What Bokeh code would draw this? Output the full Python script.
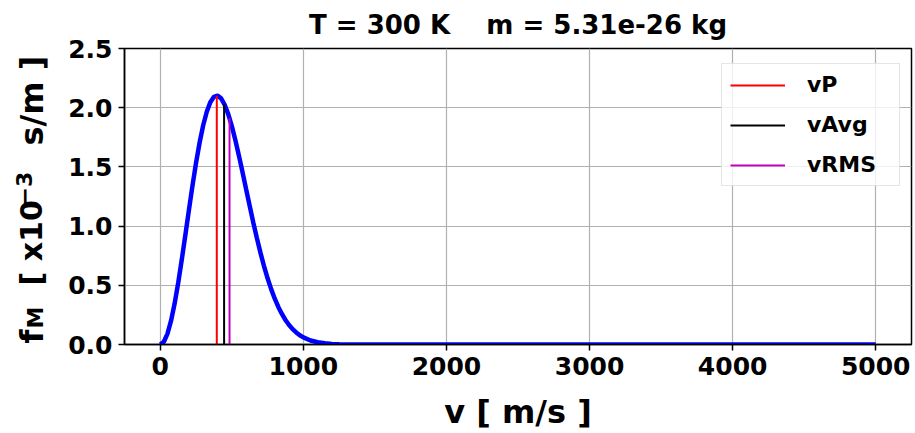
from bokeh.plotting import figure
from bokeh.layouts import row
from bokeh.models import Label, Range1d, FixedTicker, Legend, LegendItem, PrintfTickFormatter
from bokeh.embed import file_html
from bokeh.resources import INLINE

# ---- data ----
speed = [0, 25, 50, 75, 100, 125, 150, 175, 200, 225, 250, 275, 300, 325, 350,
         375, 400, 425, 450, 475, 500, 525, 550, 575, 600, 625, 650, 675, 700,
         725, 750, 775, 800, 825, 850, 875, 900, 925, 950, 975, 1000, 1050,
         1100, 1150, 1200, 1250, 1300, 1400, 1500, 2000, 3000, 4000, 5000]
f_m = [0.0, 0.023, 0.090, 0.199, 0.344, 0.518, 0.714, 0.922, 1.134, 1.341,
       1.534, 1.706, 1.852, 1.966, 2.047, 2.092, 2.102, 2.079, 2.025, 1.946,
       1.844, 1.725, 1.593, 1.454, 1.311, 1.170, 1.031, 0.899, 0.776, 0.662,
       0.559, 0.468, 0.387, 0.317, 0.258, 0.207, 0.165, 0.130, 0.102, 0.078,
       0.060, 0.034, 0.019, 0.010, 0.005, 0.0025, 0.001, 0.0003, 0.0, 0.0,
       0.0, 0.0, 0.0]

mark_names = ["vP", "vAvg", "vRMS"]
mark_speeds = [395, 446, 484]
mark_heights = [2.10, 2.03, 1.91]
mark_colors = ["#ff0000", "#000000", "#bf00bf"]

x_ticks = [0, 1000, 2000, 3000, 4000, 5000]
y_ticks = [0.0, 0.5, 1.0, 1.5, 2.0, 2.5]

title_text = "T = 300 K\u00a0\u00a0\u00a0\u00a0m = 5.31e-26 kg"
x_label = "v [ m/s ]"
# y label pieces: text, font px, baseline x, start y (page pixels)
y_label_pieces = [
    ("f", 32, 31, 344),
    ("M", 22, 35, 329),
    ("[ x10", 30, 31, 286),
    ("\u22123", 22, 23, 206),
    ("s/m ]", 32, 31, 146),
]

FONT = "DejaVu Sans"
H = 433
LW = 64          # width of the strip that carries the y label
W = 913 - LW
FRAME_TOP, FRAME_BOTTOM = 48, 345

# ---- y-axis label strip (its frame is aligned with the main frame) ----
lf = figure(width=LW, height=H, output_backend="svg", toolbar_location=None,
            x_range=Range1d(0, LW), y_range=Range1d(0, 1), min_border=0)
lf.axis.visible = False
lf.grid.visible = False
lf.outline_line_color = None
for txt, fs, px, py in y_label_pieces:
    lf.add_layout(Label(x=px, y=FRAME_BOTTOM - py, x_units="screen", y_units="screen",
                        text=txt, angle=1.5707963, text_font=FONT,
                        text_font_style="bold", text_font_size=f"{fs}px",
                        text_color="#000000", text_align="left",
                        text_baseline="alphabetic"))

# ---- main plot ----
p = figure(width=W, height=H, output_backend="svg", toolbar_location=None,
           x_range=Range1d(-250, 5250), y_range=Range1d(0, 2.5),
           min_border_left=124 - LW, min_border_right=2, min_border_top=FRAME_TOP,
           min_border_bottom=H - FRAME_BOTTOM)

p.title.text = title_text
p.title.align = "center"
p.title.vertical_align = "top"
p.title.text_font = FONT
p.title.text_font_style = "bold"
p.title.text_font_size = "26px"
p.title.text_color = "#000000"
p.title.standoff = 14

p.line(speed, f_m, line_color="#0000ff", line_width=4.5)

items = []
for name, sv, h, c in zip(mark_names, mark_speeds, mark_heights, mark_colors):
    r = p.segment(x0=[sv], y0=[0], x1=[sv], y1=[h], line_color=c, line_width=2)
    items.append(LegendItem(label=name, renderers=[r]))

legend = Legend(items=items, location=(597, 158))
legend.label_text_font = FONT
legend.label_text_font_style = "bold"
legend.label_text_font_size = "22px"
legend.label_text_color = "#000000"
legend.glyph_width = 55
legend.glyph_height = 24
legend.label_standoff = 22
legend.label_width = 84
legend.spacing = 15
legend.padding = 8
legend.border_line_color = "#cccccc"
legend.border_line_width = 1
legend.background_fill_alpha = 0.8
p.add_layout(legend)

p.xaxis.ticker = FixedTicker(ticks=x_ticks)
p.yaxis.ticker = FixedTicker(ticks=y_ticks)
p.yaxis.formatter = PrintfTickFormatter(format="%.1f")
for ax in (p.xaxis[0], p.yaxis[0]):
    ax.major_label_text_font = FONT
    ax.major_label_text_font_style = "bold"
    ax.major_label_text_font_size = "25px"
    ax.major_label_text_color = "#000000"
    ax.axis_line_color = "#000000"
    ax.axis_line_width = 1.5
    ax.major_tick_line_color = "#000000"
    ax.major_tick_line_width = 1.5
    ax.major_tick_out = 6
    ax.major_tick_in = 0
    ax.minor_tick_line_color = None
    ax.major_label_standoff = 6

p.xaxis.axis_label = x_label
p.xaxis.axis_label_text_font = FONT
p.xaxis.axis_label_text_font_style = "bold"
p.xaxis.axis_label_text_font_size = "32px"
p.xaxis.axis_label_text_color = "#000000"
p.xaxis.axis_label_standoff = 15

p.outline_line_color = "#000000"
p.outline_line_width = 1.5
p.grid.grid_line_color = "#b0b0b0"
p.grid.grid_line_width = 1.2

layout = row(lf, p, spacing=0)
open("out.html", "w").write(file_html(layout, INLINE))
